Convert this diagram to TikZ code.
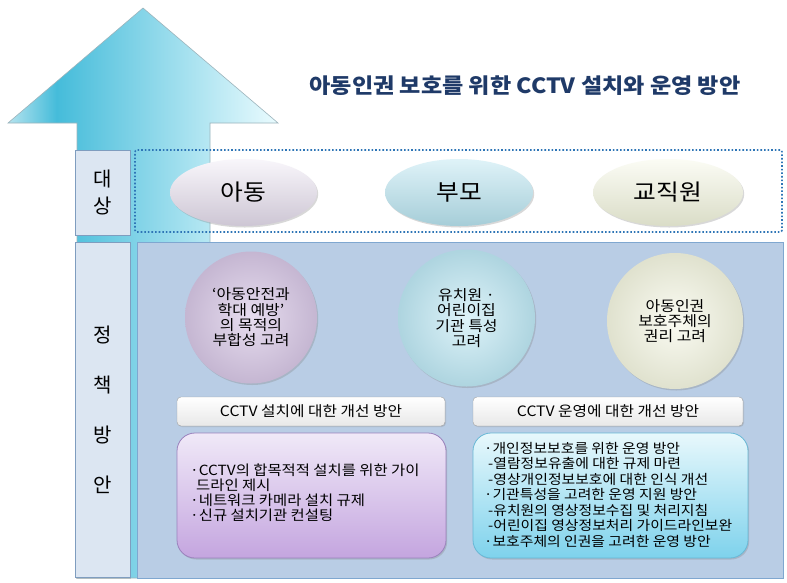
\documentclass[tikz,border=0pt]{standalone}
\usepackage{fontspec}
\setmainfont{Noto Sans CJK KR}
\newfontfamily\krw[FakeStretch=1.1]{Noto Sans CJK KR}
\usetikzlibrary{shadows,shapes.geometric}
\definecolor{arA}{HTML}{B5E3EE}
\definecolor{arB}{HTML}{45BCDA}
\definecolor{arC}{HTML}{EAFBFE}
\definecolor{arEdge}{HTML}{9CB4BC}
\definecolor{titleC}{HTML}{1F3A68}
\definecolor{labFill}{HTML}{DCE6F2}
\definecolor{labEdge}{HTML}{7F9DBF}
\definecolor{polFill}{HTML}{B9CDE5}
\definecolor{polEdge}{HTML}{7FA7D0}
\definecolor{dotC}{HTML}{2E75B6}
\definecolor{eA}{HTML}{E9E1F1}
\definecolor{eB}{HTML}{B8E4F0}
\definecolor{eC}{HTML}{F2F5DD}
\definecolor{cA}{HTML}{D6C6E4}
\definecolor{cB}{HTML}{BDE7F3}
\definecolor{cC}{HTML}{F3F5E0}
\definecolor{hdEdge}{HTML}{A0A0A0}
\definecolor{bxAtop}{HTML}{F0E9F8}
\definecolor{bxAbot}{HTML}{C4A5DF}
\definecolor{bxAedge}{HTML}{9A82BD}
\definecolor{bxBtop}{HTML}{E8F8FC}
\definecolor{bxBbot}{HTML}{7ED2EC}
\definecolor{bxBedge}{HTML}{68B8D6}
\pgfdeclarehorizontalshading{arrowsh}{100bp}{color(0bp)=(arA); color(25bp)=(arA); color(34bp)=(arB); color(75bp)=(arC); color(100bp)=(arC)}
\tikzset{
  labbox/.style={draw=labEdge, fill=labFill, line width=0.8pt, inner sep=0pt,
    drop shadow={opacity=0.35, shadow xshift=1pt, shadow yshift=-1pt}},
  ovalbox/.style={ellipse, draw=none, inner sep=0pt, font=\krw\fontsize{22.5}{26}\selectfont,
    drop shadow={opacity=0.3, shadow xshift=1.2pt, shadow yshift=-1.5pt}},
  roundbox/.style={circle, draw=none, inner sep=0pt, align=center,
    font=\krw\fontsize{14.5}{15.3}\selectfont,
    drop shadow={opacity=0.3, shadow xshift=1.2pt, shadow yshift=-1.5pt}},
  headbox/.style={draw=hdEdge, rounded corners=4pt, top color=white, bottom color=black!9,
    minimum width=268pt, minimum height=29pt, inner sep=0pt,
    font=\krw\fontsize{14.3}{16}\selectfont,
    drop shadow={opacity=0.25, shadow xshift=1pt, shadow yshift=-1pt}},
  textbox/.style={rounded corners=18pt, inner sep=0pt, line width=0.8pt,
    drop shadow={opacity=0.3, shadow xshift=1.2pt, shadow yshift=-1.5pt}},
  bodytext/.style={anchor=north west, inner sep=0pt, align=left}
}
\begin{document}
\begin{tikzpicture}[x=1pt,y=-1pt]
\useasboundingbox (0,0) rectangle (787,582);
\fill[white] (0,0) rectangle (787,582);
% big arrow
\path[shading=arrowsh, draw=arEdge, line width=0.6pt]
  (143,8) -- (278,123) -- (210,123) -- (210,578) -- (77,578) -- (77,123) -- (8,123) -- cycle;
% title
\node[font=\krw\fontsize{21}{24}\selectfont\bfseries, text=titleC] (title) at (525,86) {아동인권 보호를 위한 CCTV 설치와 운영 방안};
% left labels
\node[labbox, minimum width=55pt, minimum height=85pt, align=center,
      font=\fontsize{20}{27}\selectfont] (lab1) at (102.5,192.5) {대\\상};
\node[labbox, minimum width=55pt, minimum height=335pt, align=center,
      font=\fontsize{20}{50}\selectfont] (lab2) at (102.5,410) {정\\책\\방\\안};
% policy area
\node[draw=polEdge, fill=polFill, line width=0.8pt, minimum width=646pt, minimum height=336pt, inner sep=0pt] (pol) at (460,410) {};
% dotted target box
\node[draw=dotC, dotted, line width=1.6pt, rounded corners=2pt, minimum width=647pt, minimum height=82pt, inner sep=0pt] (tgt) at (458.5,191) {};
% ellipses
\node[ovalbox, minimum width=147pt, minimum height=67pt, top color=white!70!eA, bottom color=eA!88!black] (oA) at (243.5,192.5) {아동};
\node[ovalbox, minimum width=148pt, minimum height=67pt, top color=white!55!eB, bottom color=eB!90!black] (oB) at (459,192.5) {부모};
\node[ovalbox, minimum width=150pt, minimum height=67pt, top color=white!70!eC, bottom color=eC!90!black] (oC) at (668,192.5) {교직원};
% circles
\node[roundbox, minimum width=132pt, inner color=white!40!cA, outer color=cA!92!black] (cA) at (251,317.5) {‘아동안전과\\학대 예방’\\의 목적의\\부합성 고려};
\node[roundbox, minimum width=137pt, inner color=white!50!cB, outer color=cB!92!black] (cB) at (466.5,318) {유치원 ·\\어린이집\\기관 특성\\고려};
\node[roundbox, minimum width=136pt, inner color=white!60!cC, outer color=cC!92!black] (cC) at (675,321) {아동인권\\보호주체의\\권리 고려};
% header boxes
\node[headbox] (hA) at (311,411.5) {CCTV 설치에 대한 개선 방안};
\node[headbox, minimum width=270pt] (hB) at (608,411.5) {CCTV 운영에 대한 개선 방안};
% text boxes
\node[textbox, draw=bxAedge, top color=bxAtop, bottom color=bxAbot, minimum width=269pt, minimum height=125pt] (bA) at (311.5,495.5) {};
\node[textbox, draw=bxBedge, top color=bxBtop, bottom color=bxBbot, minimum width=275pt, minimum height=125pt] (bB) at (610.5,495.5) {};
\node[bodytext, font=\krw\fontsize{14}{14.8}\selectfont] (tA) at (190,464) {·CCTV의 합목적적 설치를 위한 가이\\\hspace{6pt}드라인 제시\\·네트워크 카메라 설치 규제\\·신규 설치기관 컨설팅};
\node[bodytext, font=\krw\fontsize{13.5}{15.5}\selectfont] (tB) at (484,442) {·개인정보보호를 위한 운영 방안\\\hspace{4pt}-열람정보유출에 대한 규제 마련\\\hspace{4pt}-영상개인정보보호에 대한 인식 개선\\·기관특성을 고려한 운영 지원 방안\\\hspace{4pt}-유치원의 영상정보수집 및 처리지침\\\hspace{4pt}-어린이집 영상정보처리 가이드라인보완\\·보호주체의 인권을 고려한 운영 방안};
\end{tikzpicture}
\end{document}
